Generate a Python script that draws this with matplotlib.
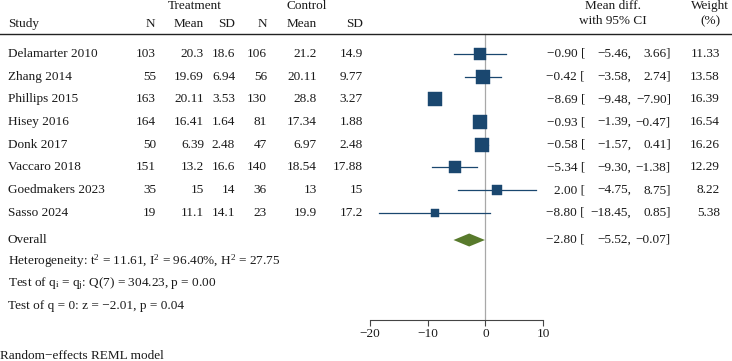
import numpy as np
import matplotlib
matplotlib.use("Agg")
import matplotlib.pyplot as plt
from matplotlib.transforms import blended_transform_factory

# ==================================
# 字体
# ==================================

plt.rcParams["font.family"] = ["Liberation Serif", "DejaVu Serif"]
plt.rcParams["mathtext.fontset"] = "custom"
plt.rcParams["mathtext.rm"] = "Liberation Serif"
plt.rcParams["mathtext.it"] = "Liberation Serif:italic"
plt.rcParams["axes.unicode_minus"] = True

# ==================================
# 数据
# ==================================

studies = ["Delamarter 2010", "Zhang 2014", "Phillips 2015", "Hisey 2016",
           "Donk 2017", "Vaccaro 2018", "Goedmakers 2023", "Sasso 2024"]

n_t = ["103", "55", "163", "164", "50", "151", "35", "19"]
mean_t = ["20.3", "19.69", "20.11", "16.41", "6.39", "13.2", "15", "11.1"]
sd_t = ["18.6", "6.94", "3.53", "1.64", "2.48", "16.6", "14", "14.1"]
n_c = ["106", "56", "130", "81", "47", "140", "36", "23"]
mean_c = ["21.2", "20.11", "28.8", "17.34", "6.97", "18.54", "13", "19.9"]
sd_c = ["14.9", "9.77", "3.27", "1.88", "2.48", "17.88", "15", "17.2"]

est = np.array([-0.90, -0.42, -8.69, -0.93, -0.58, -5.34, 2.00, -8.80])
lo = np.array([-5.46, -3.58, -9.48, -1.39, -1.57, -9.30, -4.75, -18.45])
hi = np.array([3.66, 2.74, -7.90, -0.47, 0.41, -1.38, 8.75, 0.85])
weight = np.array([11.33, 13.58, 16.39, 16.54, 16.26, 12.29, 8.22, 5.38])

overall_est = -2.80
overall_lo = -5.52
overall_hi = -0.07

het_text = r"Heterogeneity: t$^2$ = 11.61, I$^2$ = 96.40%, H$^2$ = 27.75"
q_text = r"Test of q$_\mathrm{i}$ = q$_\mathrm{j}$: Q(7) = 304.23, p = 0.00"
z_text = "Test of q = 0: z = \u22122.01, p = 0.04"
model_text = "Random\u2212effects REML model"

xticks = [-20, -10, 0, 10]

# ==================================
# 布局
# ==================================

W, H = 732, 361
ROW0, ROWH = 54, 22.7   # 第一行像素位置与行高


def row(px):
    return (px - ROW0) / ROWH


def fx(px):
    return px / W


NAVY = "#1a476f"
GREEN = "#587a2c"
TXT = "#1a1a1a"
FS = 9.5

fig = plt.figure(figsize=(W / 100, H / 100), dpi=100)
ax = fig.add_axes([fx(370), 0, fx(543) - fx(370), 1])
ax.set_xlim(-20, 10)
ax.set_ylim(row(H), row(0))
ax.patch.set_visible(False)

tr = blended_transform_factory(fig.transFigure, ax.transData)


def put(px, y, s, ha="right", **kw):
    ax.text(fx(px), y, s, transform=tr, ha=ha, va="center",
            fontsize=FS, color=TXT, clip_on=False, **kw)


# 表头
put(195, row(6), "Treatment", ha="center")
put(307, row(6), "Control", ha="center")
put(8, row(24), "Study", ha="left")
for px, s in zip([155, 204, 235, 267, 317, 363], ["N", "Mean", "SD", "N", "Mean", "SD"]):
    put(px, row(24), s)
put(613, row(6), "Mean diff.", ha="center")
put(613, row(21), "with 95% CI", ha="center")
put(710, row(6), "Weight", ha="center")
put(710, row(21), "(%)", ha="center")

ax.plot([0, 1], [row(34), row(34)], transform=tr, color="#222222",
        lw=1.0, clip_on=False)

# 零线
ax.plot([0, 0], [row(34), row(320)], color="#a8a8a8", lw=0.9, zorder=1)

# ==================================
# 各研究
# ==================================

y = np.arange(len(studies))


def fmt(v):
    return f"{v:.2f}".replace("-", "\u2212")


for i in range(len(studies)):
    put(8, y[i], studies[i], ha="left")
    put(156, y[i], n_t[i])
    put(204, y[i], mean_t[i])
    put(235, y[i], sd_t[i])
    put(267, y[i], n_c[i])
    put(317, y[i], mean_c[i])
    put(363, y[i], sd_c[i])

    put(585, y[i], fmt(est[i]) + " [")
    put(631, y[i], fmt(lo[i]) + ",")
    put(671, y[i], fmt(hi[i]) + "]")
    put(720, y[i], f"{weight[i]:.2f}")

    ax.plot([lo[i], hi[i]], [y[i], y[i]], color=NAVY, lw=0.9, zorder=2)
    side_pt = 3.6 * np.sqrt(weight[i]) * 0.72
    ax.plot(est[i], y[i], marker="s", ms=side_pt, color=NAVY,
            mec=NAVY, mew=0.3, zorder=3)

# ==================================
# 合并效应
# ==================================

yo = row(240)
put(8, yo, "Overall", ha="left")
put(585, yo, fmt(overall_est) + " [")
put(631, yo, fmt(overall_lo) + ",")
put(671, yo, fmt(overall_hi) + "]")

hh = 6.5 / ROWH
ax.fill([overall_lo, overall_est, overall_hi, overall_est],
        [yo, yo - hh, yo, yo + hh], color=GREEN, lw=0, zorder=3)

put(8, row(261), het_text, ha="left")
put(8, row(284), q_text, ha="left")
put(8, row(306), z_text, ha="left")
put(0, row(356), model_text, ha="left")

# ==================================
# 坐标轴
# ==================================

for s in ["top", "left", "right"]:
    ax.spines[s].set_visible(False)
ax.spines["bottom"].set_position(("data", row(320)))
ax.spines["bottom"].set_bounds(-20, 10)
ax.spines["bottom"].set_color("#444444")
ax.spines["bottom"].set_linewidth(0.8)
ax.set_xticks(xticks)
ax.set_xticklabels([str(t).replace("-", "\u2212") for t in xticks])
ax.tick_params(axis="x", direction="out", length=4, width=0.8,
               color="#444444", labelsize=FS, labelcolor=TXT, pad=1.5)
ax.set_yticks([])

plt.savefig("out.png", dpi=100)
